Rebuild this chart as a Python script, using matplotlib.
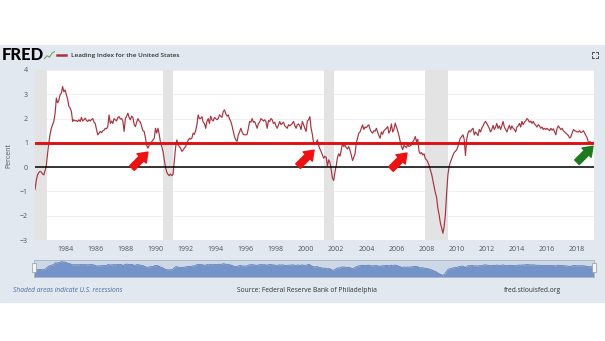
import matplotlib
matplotlib.use("Agg")
import matplotlib.pyplot as plt
import matplotlib.patches as mpatches
from matplotlib.lines import Line2D
import numpy as np

# monthly values of the Leading Index, Jan 1982 .. Feb 2019
lead_1982_1990 = [
    -0.93, -0.55, -0.32, -0.22, -0.18, -0.20, -0.28, -0.32, -0.15, 0.05, 0.55, 1.00,
    1.35, 1.60, 1.75, 1.88, 2.20, 2.84, 2.65, 2.75, 2.98, 3.05, 3.32, 3.10,
    3.18, 2.98, 2.80, 2.50, 2.43, 2.29, 1.88, 1.95, 1.90, 1.92, 1.88, 1.95,
    1.88, 2.05, 1.90, 1.95, 2.02, 1.92, 1.88, 1.95, 1.90, 1.96, 2.00, 1.85,
    1.80, 1.55, 1.33, 1.40, 1.47, 1.42, 1.50, 1.52, 1.60, 1.58, 1.67, 2.15,
    1.80, 1.90, 1.80, 2.00, 1.95, 1.90, 2.05, 2.08, 1.98, 2.00, 1.90, 1.47,
    2.00, 2.10, 2.22, 2.05, 1.95, 2.10, 2.05, 1.75, 1.67, 1.85, 2.00, 1.90,
    1.85, 1.67, 1.50, 1.47, 1.20, 0.90, 0.78, 0.90, 0.99, 1.05, 1.12, 1.19,
    1.60, 1.40, 1.60, 1.35, 1.00, 0.85, 0.65, 0.30, 0.00, -0.21, -0.30, -0.35,
]
lead_1991_1999 = [
    -0.28, -0.35, -0.30, 0.27, 0.80, 1.12, 0.92, 0.85, 0.78, 0.65, 0.70, 0.78,
    0.85, 0.99, 1.10, 1.19, 1.15, 1.20, 1.40, 1.35, 1.50, 1.74, 2.15, 2.00,
    2.00, 2.08, 1.85, 1.80, 1.60, 1.88, 2.00, 1.80, 2.10, 1.95, 1.90, 2.05,
    2.00, 1.95, 2.00, 2.15, 2.10, 2.05, 2.29, 2.36, 2.20, 2.10, 2.15, 1.98,
    1.88, 1.70, 1.47, 1.25, 1.12, 1.06, 1.33, 1.45, 1.60, 1.45, 1.35, 1.33,
    1.33, 1.35, 1.60, 1.88, 1.85, 2.00, 1.85, 1.88, 1.75, 1.60, 1.80, 1.85,
    2.00, 1.95, 1.90, 1.95, 1.88, 1.60, 1.92, 1.88, 2.00, 1.95, 1.80, 1.85,
    1.70, 1.60, 1.74, 1.88, 1.75, 1.80, 1.85, 1.70, 1.65, 1.60, 1.75, 1.70,
    1.74, 1.80, 1.88, 1.72, 1.60, 1.74, 1.78, 1.70, 1.55, 1.88, 1.75, 1.60,
]
lead_2000_2009 = [
    1.47, 1.90, 1.95, 2.08, 1.60, 1.35, 0.99, 0.95, 1.00, 1.12, 0.90, 0.75,
    0.64, 0.50, 0.37, 0.45, 0.40, 0.05, 0.30, 0.20, -0.10, -0.45, -0.55, -0.20,
    0.05, 0.40, 0.55, 0.45, 0.70, 0.99, 0.85, 0.90, 0.80, 0.75, 0.85, 0.70,
    0.50, 0.27, 0.40, 0.55, 0.99, 1.20, 1.40, 1.45, 1.60, 1.74, 1.55, 1.65,
    1.62, 1.70, 1.74, 1.55, 1.45, 1.40, 1.50, 1.48, 1.60, 1.45, 1.30, 1.19,
    1.45, 1.35, 1.50, 1.55, 1.60, 1.67, 1.40, 1.50, 1.78, 1.45, 1.55, 1.81,
    1.65, 1.50, 1.30, 1.06, 0.85, 0.72, 0.90, 0.85, 0.80, 0.92, 0.85, 0.88,
    0.92, 1.05, 1.12, 1.26, 1.05, 1.15, 0.65, 0.55, 0.60, 0.50, 0.55, 0.35,
    0.30, 0.21, 0.07, -0.10, -0.28, -0.55, -0.80, -1.05, -1.25, -1.69, -1.96, -2.30,
    -2.50, -2.72, -2.45, -1.96, -1.07, -0.32, 0.03, 0.21, 0.35, 0.48, 0.60, 0.65,
]
lead_2010_2019 = [
    0.72, 0.85, 1.06, 1.20, 1.26, 1.33, 1.15, 0.48, 1.15, 1.40, 1.50, 1.45,
    1.55, 1.60, 1.33, 1.45, 1.38, 1.30, 1.55, 1.45, 1.60, 1.70, 1.81, 1.88,
    1.80, 1.70, 1.60, 1.45, 1.55, 1.72, 1.55, 1.65, 1.80, 1.60, 1.70, 1.55,
    1.70, 1.88, 1.65, 1.55, 1.45, 1.60, 1.72, 1.55, 1.70, 1.60, 1.55, 1.45,
    1.65, 1.70, 1.80, 1.65, 1.88, 1.75, 1.85, 1.90, 2.00, 1.95, 1.85, 1.90,
    1.80, 1.88, 1.78, 1.72, 1.65, 1.75, 1.70, 1.60, 1.65, 1.55, 1.60, 1.55,
    1.60, 1.55, 1.50, 1.60, 1.52, 1.58, 1.45, 1.33, 1.60, 1.70, 1.62, 1.55,
    1.60, 1.50, 1.45, 1.40, 1.35, 1.30, 1.20, 1.25, 1.40, 1.55, 1.50, 1.48,
    1.45, 1.45, 1.50, 1.42, 1.45, 1.50, 1.40, 1.30, 1.20, 1.00, 1.05, 1.02,
    1.00, 1.02,
]
lead = np.array(lead_1982_1990 + lead_1991_1999 + lead_2000_2009 + lead_2010_2019)
years = 1982 + np.arange(len(lead)) / 12.0

# NBER recessions (decimal years)
rec_start = [1981.5, 1990.5, 2001.17, 2007.92]
rec_end = [1982.83, 1991.17, 2001.83, 2009.42]

year_ticks = list(range(1984, 2019, 2))
y_ticks = [-3, -2, -1, 0, 1, 2, 3, 4]

# arrow tips (year, value) and tail offsets in pixels
arrow_years = [1989.50, 2000.53, 2006.70, 2019.05]
arrow_vals = [0.62, 0.70, 0.58, 0.86]
arrow_colors = ["#f01010", "#f01010", "#f01010", "#1d7a1d"]

W, H = 605, 341
PANEL = "#e1e8ef"
LINE = "#a8323f"
FONT = "Open Sans"

fig = plt.figure(figsize=(W / 100, H / 100), dpi=100)
fig.patch.set_facecolor("white")

# grey-blue panel behind the whole FRED graph
fig.add_artist(mpatches.Rectangle((0, 1 - 302 / H), 1, (302 - 45) / H,
                                  transform=fig.transFigure, color=PANEL, zorder=0))

ax = fig.add_axes([35 / W, 1 - 240 / H, (594 - 35) / W, (240 - 70) / H])
ax.set_facecolor("white")
for s in ax.spines.values():
    s.set_visible(False)

for a, b in zip(rec_start, rec_end):
    ax.axvspan(a, b, color="#e3e3e3", lw=0, zorder=1)

ax.plot(years, lead, color=LINE, lw=0.85, zorder=3)
ax.axhline(1, color="#e01010", lw=2.1, zorder=4)
ax.axhline(0, color="black", lw=1.1, zorder=4)

ax.set_xlim(1982.0, 1982 + (594 - 35) / 15.06)
ax.set_ylim(-3, 4)
ax.set_yticks(y_ticks)
ax.set_xticks(year_ticks)
ax.set_xticklabels([str(y) for y in year_ticks])
ax.grid(axis="y", color="#ececec", lw=0.6, zorder=0)
ax.set_axisbelow(True)
ax.tick_params(axis="both", length=0, labelsize=5, labelcolor="#555555")
ax.tick_params(axis="y", pad=5)
ax.tick_params(axis="x", pad=4)
for lab in ax.get_xticklabels() + ax.get_yticklabels():
    lab.set_family(FONT)

for yr, v, c in zip(arrow_years, arrow_vals, arrow_colors):
    ax.annotate("", xy=(yr, v), xytext=(-16, -16), textcoords="offset pixels",
                arrowprops=dict(arrowstyle="simple,head_length=0.5,head_width=0.72,tail_width=0.36",
                                mutation_scale=13, color=c, shrinkA=0, shrinkB=0),
                zorder=6)

fig.text(9 / W, 1 - 155 / H, "Percent", rotation=90, ha="center", va="center",
         fontsize=5, color="#555555", family=FONT)

# header: logo + legend
fig.text(2 / W, 1 - 55 / H, "FRED", ha="left", va="center", fontsize=12,
         weight="black", family="Lato", color="black")
icon = fig.add_axes([44 / W, 1 - 60 / H, 11 / W, 9 / H])
icon.plot([0, 1, 2, 3, 4], [0.5, 1.5, 1.0, 2.4, 3.0], color="#7aa35a", lw=0.8)
icon.set_xlim(-0.2, 4.2)
icon.set_ylim(0, 3.2)
icon.axis("off")
fig.add_artist(Line2D([57 / W, 66 / W], [1 - 55 / H, 1 - 55 / H], color=LINE, lw=1.8,
                      transform=fig.transFigure))
fig.text(71 / W, 1 - 55 / H, "Leading Index for the United States", ha="left", va="center",
         fontsize=4.6, color="#333333", weight="semibold", family=FONT)

# full screen icon
for cx, cy, dx, dy in [(592, 52, 1, 1), (598, 52, -1, 1), (592, 58, 1, -1), (598, 58, -1, -1)]:
    fig.add_artist(Line2D([cx / W, cx / W, (cx + 2 * dx) / W],
                          [1 - (cy + 2 * dy) / H, 1 - cy / H, 1 - cy / H],
                          color="#333333", lw=0.6, transform=fig.transFigure))

# navigator strip
nav = fig.add_axes([34 / W, 1 - 277 / H, (594 - 34) / W, 17 / H])
nav.set_facecolor("#cdd8e7")
nav.fill_between(years, -3.5, lead, color="#7493c8", lw=0)
nav.plot(years, lead, color="#5575ad", lw=0.5)
nav.set_xlim(ax.get_xlim())
nav.set_ylim(-3.5, 4.0)
nav.set_xticks([])
nav.set_yticks([])
for s in nav.spines.values():
    s.set_color("#aab4c4")
    s.set_linewidth(0.6)
for hx in (34, 594):
    fig.add_artist(mpatches.Rectangle(((hx - 2) / W, 1 - 272 / H), 4 / W, 9 / H,
                                      transform=fig.transFigure, facecolor="#f4f4f4",
                                      edgecolor="#999999", lw=0.5, zorder=5))

# footer
fig.text(13 / W, 1 - 291 / H, "Shaded areas indicate U.S. recessions", ha="left", va="center",
         fontsize=4.8, style="italic", color="#4a6fa5", family=FONT)
fig.text(307 / W, 1 - 291 / H, "Source: Federal Reserve Bank of Philadelphia", ha="center",
         va="center", fontsize=4.8, color="#333333", family=FONT)
fig.text(504 / W, 1 - 291 / H, "fred.stlouisfed.org", ha="left", va="center",
         fontsize=4.8, color="#333333", family=FONT)

fig.savefig("out.png", dpi=100, facecolor="white")
